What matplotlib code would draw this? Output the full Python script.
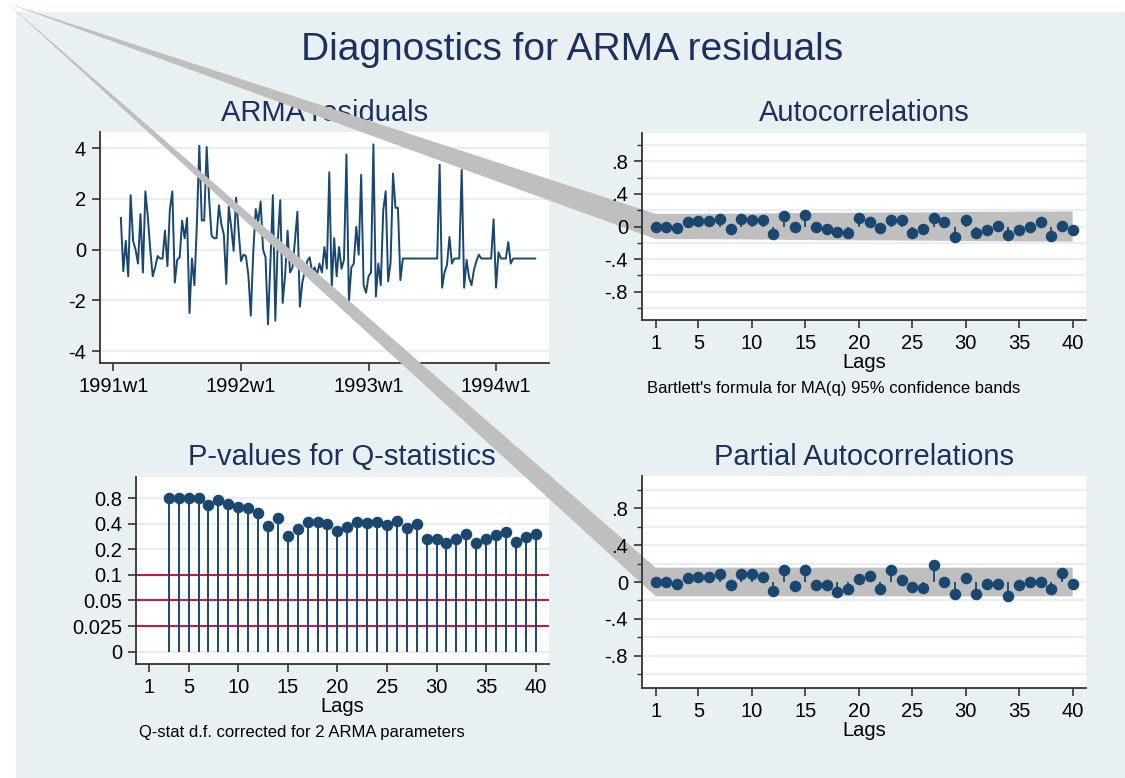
#!/usr/bin/env python3
"""
Diagnostics for ARMA residuals - Stata style 2x2 panel
(residual series, ACF, Q-stat p-values, PACF)
"""

import numpy as np
import matplotlib
matplotlib.use("Agg")
import matplotlib.pyplot as plt
from matplotlib.patches import Rectangle

plt.rcParams['font.family'] = ['Liberation Sans', 'DejaVu Sans']
plt.rcParams['axes.unicode_minus'] = False

W, H = 1125, 778

# weekly residuals, first value is 1991w4
resid = [
    1.25, -0.85, 0.35, -1.05, 2.15, 0.35, 0.0, -0.55, 1.4, -0.9,
    2.3, 1.3, 0.0, -1.05, -0.7, -0.25, -0.35, -0.35, 0.75, -0.65,
    1.6, 2.3, -1.3, -0.4, -0.3, 1.15, 0.45, 1.25, -2.5, -0.35,
    -1.4, 1.0, 4.1, 1.15, 1.15, 4.05, 2.0, 0.55, 0.45, 0.45,
    1.75, 1.0, 0.6, -1.35, 1.7, 0.9, -0.05, 2.05, 0.8, -0.45,
    -0.2, -0.25, -1.0, -2.6, -0.1, 1.6, 1.1, 1.9, 0.0, -0.3,
    -2.95, -0.5, 2.15, -2.8, 0.35, 1.95, -2.1, -1.0, 0.75, -0.9,
    -0.7, 0.35, 1.5, -2.25, -1.3, -0.85, -0.45, -0.3, -0.9, -0.7,
    -1.0, -0.55, -0.9, 0.1, -0.75, 3.05, -1.5, 0.45, -1.05, 0.1,
    -0.75, -0.4, 3.75, -2.05, -0.7, -0.55, 0.9, -0.2, 2.95, -1.4,
    -1.7, -1.05, -0.9, 4.15, -1.85, -0.55, -1.4, 1.55, 2.3, -1.25,
    -0.5, 3.0, 1.65, 1.65, -1.2, -0.35, -0.35, -0.35, -0.35, -0.35,
    -0.35, -0.35, -0.35, -0.35, -0.35, -0.35, -0.35, -0.35, -0.35, -0.35,
    3.35, -1.5, -0.9, -0.6, 0.5, -0.55, -0.35, -0.35, -0.35, 3.15,
    -1.5, -0.4, -1.1, -1.4, -0.8, -0.45, -0.2, -0.35, -0.35, -0.35,
    -0.35, -0.35, 1.2, -1.5, -0.1, -0.35, -0.35, -0.35, 0.3, -0.55,
    -0.35, -0.35, -0.35, -0.35, -0.35, -0.35, -0.35, -0.35, -0.35, -0.35,
]
resid_start_week = 4
week_ticks = [1, 53, 105, 157]
week_labels = ["1991w1", "1992w1", "1993w1", "1994w1"]
resid_ticks = [-4, -2, 0, 2, 4]

lags = list(range(1, 41))
lag_ticks = [1, 5, 10, 15, 20, 25, 30, 35, 40]
acf = [
    0.0, 0.0, -0.02, 0.06, 0.065, 0.065, 0.09, -0.025, 0.09, 0.085,
    0.08, -0.09, 0.125, -0.01, 0.145, 0.0, -0.025, -0.07, -0.08, 0.105,
    0.055, -0.02, 0.08, 0.075, -0.085, -0.025, 0.11, 0.05, -0.13, 0.08,
    -0.085, -0.045, 0.005, -0.105, -0.04, 0.0, 0.055, -0.12, 0.01, -0.045,
]
pacf = [
    0.0, 0.0, -0.02, 0.045, 0.055, 0.055, 0.085, -0.03, 0.09, 0.085,
    0.055, -0.1, 0.125, -0.045, 0.13, -0.035, -0.03, -0.11, -0.08, 0.03,
    0.06, -0.075, 0.135, 0.02, -0.055, -0.06, 0.18, 0.0, -0.135, 0.045,
    -0.135, -0.02, -0.02, -0.155, -0.035, 0.005, 0.0, -0.075, 0.095, -0.02,
]
corr_major = [-0.8, -0.4, 0, 0.4, 0.8]
corr_labels = ["-.8", "-.4", "0", ".4", ".8"]
corr_minor = [-1.0, -0.6, -0.2, 0.2, 0.6, 1.0]
n_obs = 160

q_lags = list(range(3, 41))
q_pvalues = [
    0.8, 0.8, 0.79, 0.79, 0.663, 0.75, 0.687, 0.633, 0.616, 0.539,
    0.378, 0.462, 0.287, 0.35, 0.423, 0.423, 0.4, 0.328, 0.366, 0.423,
    0.41, 0.415, 0.386, 0.43, 0.356, 0.392, 0.264, 0.264, 0.238, 0.264,
    0.299, 0.238, 0.262, 0.297, 0.323, 0.245, 0.279, 0.299,
]
p_ticks = [0, 0.025, 0.05, 0.1, 0.2, 0.4, 0.8]
p_labels = ["0", "0.025", "0.05", "0.1", "0.2", "0.4", "0.8"]
ref_levels = [0.1, 0.05, 0.025]

NAVY = "#1a476f"
TITLE = "#1c2f5e"
GRID = "#e8eff2"
BG = "#e8f0f2"
BAND = "#bfbfbf"
RED = "#d0103a"
AXC = "#333333"
APEX = (7, 3)  # where the band polygons start, figure pixels
TICK_FS = 14.5
SUB_FS = 21

fig = plt.figure(figsize=(W / 100, H / 100), dpi=100, facecolor="white")
fig.add_artist(Rectangle((16 / W, 0), 1 - 16 / W, 1 - 12 / H,
                         transform=fig.transFigure, color=BG, zorder=-10))


def px(x, y):
    return x / W, 1 - y / H


def box(l, t, r, b):
    return fig.add_axes([l / W, 1 - b / H, (r - l) / W, (b - t) / H])


def style(ax, grid_at):
    for s in ("top", "right"):
        ax.spines[s].set_visible(False)
    for s in ("left", "bottom"):
        ax.spines[s].set_color(AXC)
        ax.spines[s].set_linewidth(1.3)
    ax.tick_params(which="major", length=6, width=1.2, color=AXC,
                   labelsize=TICK_FS, pad=4)
    ax.tick_params(which="minor", length=3.5, width=1.0, color=AXC)
    # gridlines kept under the bands, tick labels kept above them
    for y in grid_at:
        ax.axhline(y, color=GRID, lw=1.6, zorder=0.6)


def draw_band(ax, lo, hi):
    ax_pt = ax.transData.inverted().transform(
        fig.transFigure.transform(px(*APEX)))
    xs = [ax_pt[0]] + lags + lags[::-1]
    ys = [ax_pt[1]] + list(hi) + list(lo[::-1])
    ax.fill(xs, ys, color=BAND, lw=0, zorder=1.2, clip_on=False)


def corr_panel(ax, vals, lo, hi):
    style(ax, corr_major + corr_minor)
    ax.set_xlim(-0.28, 41.25)
    ax.set_ylim(-1.147, 1.147)
    ax.set_yticks(corr_major)
    ax.set_yticklabels(corr_labels)
    ax.set_yticks(corr_minor, minor=True)
    ax.set_xticks(lag_ticks)
    draw_band(ax, lo, hi)
    ax.vlines(lags, 0, vals, color=NAVY, lw=1.3, zorder=3)
    ax.plot(lags, vals, "o", color=NAVY, ms=7.3, zorder=4)


def sub_title(x, y, s):
    # drawn before the axes so the band wedges pass over it
    fig.text(*px(x, y), s, ha="center", va="center", fontsize=SUB_FS,
             color=TITLE, zorder=-1)


# fig title
fig.text(*px(572, 50), "Diagnostics for ARMA residuals", ha="center",
         va="center", fontsize=28, color=TITLE)

# residual series
ax1 = box(100, 132, 549, 363)
style(ax1, resid_ticks)
weeks = np.arange(resid_start_week, resid_start_week + len(resid))
ax1.plot(weeks, resid, color=NAVY, lw=1.4, zorder=2)
ax1.set_xlim(-4.5, 178.6)
ax1.set_ylim(-4.47, 4.64)
ax1.set_yticks(resid_ticks)
ax1.set_xticks(week_ticks)
ax1.set_xticklabels(week_labels)
sub_title(325, 113, "ARMA residuals")

# autocorrelations with Bartlett bands
acf_arr = np.array(acf)
cum = np.concatenate([[0.0], np.cumsum(acf_arr[:-1] ** 2)])
acf_band = 1.96 * np.sqrt((1 + 2 * cum) / n_obs)
ax2 = box(642, 133, 1086, 320)
corr_panel(ax2, acf, -acf_band, acf_band)
sub_title(864, 113, "Autocorrelations")
fig.text(*px(864, 363), "Lags", ha="center", va="center", fontsize=TICK_FS)
fig.text(*px(647, 389), "Bartlett's formula for MA(q) 95% confidence bands",
         ha="left", va="center", fontsize=12)


# p-values on Stata's stretched scale
def p_fwd(p):
    p = np.asarray(p, dtype=float)
    return np.where(p >= 0.025, np.log2(np.maximum(p, 1e-12) / 0.025) + 1,
                    p / 0.025)


def p_inv(v):
    v = np.asarray(v, dtype=float)
    return np.where(v >= 1, 0.025 * 2.0 ** (v - 1), v * 0.025)


ax3 = box(136, 477, 549, 664)
style(ax3, p_ticks)
ax3.set_yscale("function", functions=(p_fwd, p_inv))
ax3.set_xlim(-0.31, 41.34)
ax3.set_ylim(float(p_inv(-0.48)), float(p_inv(6.82)))
ax3.set_yticks(p_ticks)
ax3.set_yticklabels(p_labels)
ax3.minorticks_off()
ax3.set_xticks(lag_ticks)
for lvl in ref_levels:
    ax3.axhline(lvl, color=RED, lw=1.4, zorder=2)
ax3.vlines(q_lags, 0, q_pvalues, color=NAVY, lw=1.4, zorder=3)
ax3.plot(q_lags, q_pvalues, "o", color=NAVY, ms=7.3, zorder=4)
sub_title(342, 457, "P-values for Q-statistics")
fig.text(*px(342, 707), "Lags", ha="center", va="center", fontsize=TICK_FS)
fig.text(*px(139, 733), "Q-stat d.f. corrected for 2 ARMA parameters",
         ha="left", va="center", fontsize=12)

# partial autocorrelations
pacf_band = np.full(len(lags), 1.96 / np.sqrt(n_obs))
ax4 = box(642, 476, 1086, 688)
corr_panel(ax4, pacf, -pacf_band, pacf_band)
sub_title(864, 457, "Partial Autocorrelations")
fig.text(*px(864, 730), "Lags", ha="center", va="center", fontsize=TICK_FS)

fig.savefig("out.png", dpi=100, facecolor=fig.get_facecolor())
